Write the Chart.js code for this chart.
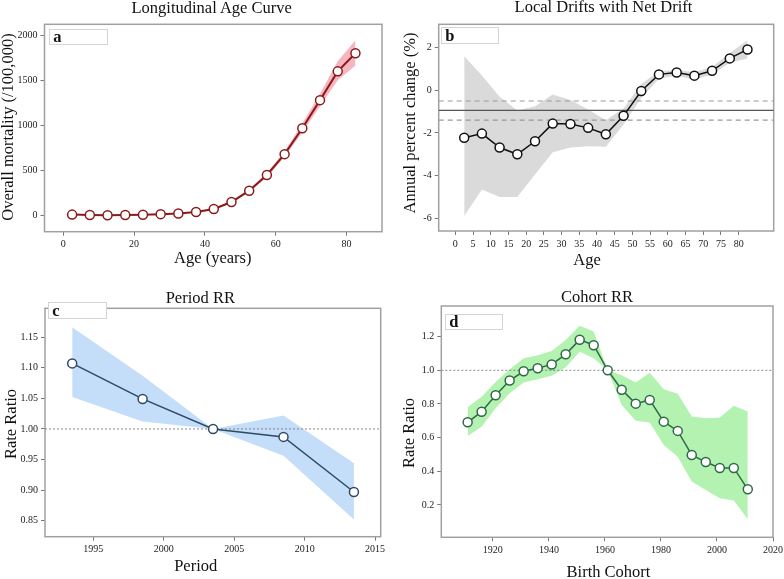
<!DOCTYPE html>
<html><head><meta charset="utf-8">
<script src="https://cdn.jsdelivr.net/npm/chart.js@4.4.1/dist/chart.umd.min.js"></script>
<style>
html,body{margin:0;padding:0;background:#fff;width:784px;height:579px;overflow:hidden;}
body{position:relative;font-family:'Liberation Serif','Times New Roman',serif;color:#111;}
canvas{position:absolute;}
.t{position:absolute;white-space:nowrap;font-size:16.5px;line-height:1;transform:translate(-50%,-50%);}
.r{transform:translate(-50%,-50%) rotate(-90deg);}
.tag{position:absolute;box-sizing:border-box;border:1.5px solid #d4d4d4;background:#fff;font-weight:bold;font-size:16.5px;padding-left:3px;}
</style></head><body>
<canvas id="ca" width="392" height="290" style="left:0;top:0"></canvas>
<canvas id="cb" width="392" height="290" style="left:392px;top:0"></canvas>
<canvas id="cc" width="392" height="289" style="left:0;top:290px"></canvas>
<canvas id="cd" width="392" height="289" style="left:392px;top:290px"></canvas>

<div class="t" style="left:211.7px;top:7.7px">Longitudinal Age Curve</div>
<div class="t" style="left:603.5px;top:7.3px">Local Drifts with Net Drift</div>
<div class="t" style="left:200.3px;top:297.7px">Period RR</div>
<div class="t" style="left:597px;top:297px">Cohort RR</div>

<div class="t" style="left:212.8px;top:257.5px">Age (years)</div>
<div class="t" style="left:587px;top:259.5px">Age</div>
<div class="t" style="left:195.7px;top:565.5px">Period</div>
<div class="t" style="left:608.5px;top:571.5px">Birth Cohort</div>

<div class="t r" style="left:7.5px;top:127.3px">Overall mortality (/100,000)</div>
<div class="t r" style="left:409.5px;top:123.3px">Annual percent change (%)</div>
<div class="t r" style="left:11.3px;top:424px">Rate Ratio</div>
<div class="t r" style="left:409px;top:433.3px">Rate Ratio</div>

<div class="tag" style="left:49.3px;top:29px;width:59px;height:15.5px;line-height:14px">a</div>
<div class="tag" style="left:441.3px;top:27.3px;width:58px;height:16.7px;line-height:15px">b</div>
<div class="tag" style="left:48.3px;top:301.7px;width:59px;height:17.6px;line-height:16px">c</div>
<div class="tag" style="left:445.3px;top:314.3px;width:57.7px;height:15.7px;line-height:14px">d</div>

<script>
// ---------- Data ----------
const ageGroups = [2.5, 7.5, 12.5, 17.5, 22.5, 27.5, 32.5, 37.5, 42.5, 47.5, 52.5, 57.5, 62.5, 67.5, 72.5, 77.5, 82.5];

const ageCurve      = [12, 8, 5, 7, 10, 17, 25, 40, 75, 152, 278, 452, 684, 972, 1284, 1604, 1806];
const ageCurveUpper = [14, 10, 7, 9, 12, 20, 28, 45, 82, 165, 295, 478, 715, 1025, 1355, 1715, 1950];
const ageCurveLower = [10, 6, 4, 5, 8, 14, 22, 36, 68, 140, 262, 428, 655, 925, 1215, 1505, 1670];

const localDrift      = [-2.22, -2.03, -2.68, -3.0, -2.39, -1.56, -1.58, -1.76, -2.06, -1.19, -0.03, 0.75, 0.84, 0.69, 0.92, 1.5, 1.92];
const localDriftUpper = [1.6, 0.7, -0.3, -0.95, -0.75, -0.2, -0.45, -0.9, -1.4, -0.85, 0.3, 0.9, 0.95, 0.85, 1.1, 1.75, 2.35];
const localDriftLower = [-5.9, -4.65, -5.0, -5.0, -3.95, -2.9, -2.68, -2.62, -2.65, -1.6, -0.35, 0.55, 0.7, 0.5, 0.75, 1.3, 1.5];
const netDrift = -0.94;
const netDriftCI = [-1.4, -0.5];

const periods     = [1993.5, 1998.5, 2003.5, 2008.5, 2013.5];
const periodRR    = [1.107, 1.049, 1.0, 0.987, 0.897];
const periodUpper = [1.166, 1.087, 1.0, 1.022, 0.944];
const periodLower = [1.052, 1.012, 1.0, 0.956, 0.852];

const cohorts     = [1911, 1916, 1921, 1926, 1931, 1936, 1941, 1946, 1951, 1956, 1961, 1966, 1971, 1976, 1981, 1986, 1991, 1996, 2001, 2006, 2011];
const cohortRR    = [0.691, 0.754, 0.852, 0.939, 0.994, 1.012, 1.035, 1.095, 1.182, 1.149, 1.0, 0.885, 0.802, 0.824, 0.695, 0.640, 0.497, 0.455, 0.42, 0.42, 0.293];
const cohortUpper = [0.78, 0.843, 0.93, 1.006, 1.072, 1.09, 1.115, 1.18, 1.264, 1.23, 1.0, 0.97, 0.927, 0.986, 0.888, 0.86, 0.725, 0.715, 0.72, 0.79, 0.755];
const cohortLower = [0.61, 0.665, 0.775, 0.864, 0.927, 0.947, 0.967, 1.018, 1.11, 1.072, 1.0, 0.794, 0.70, 0.69, 0.556, 0.487, 0.339, 0.289, 0.24, 0.226, 0.115];

const refRR = 1.0;

// ---------- Tick labels ----------
const ageTicksA    = [0, 20, 40, 60, 80];
const mortTicks    = [0, 500, 1000, 1500, 2000];
const ageTicksB    = [0, 5, 10, 15, 20, 25, 30, 35, 40, 45, 50, 55, 60, 65, 70, 75, 80];
const driftTicks   = [-6, -4, -2, 0, 2];
const periodTicks  = [1995, 2000, 2005, 2010, 2015];
const periodRRTicks = [0.85, 0.90, 0.95, 1.00, 1.05, 1.10, 1.15];
const cohortTicks  = [1920, 1940, 1960, 1980, 2000, 2020];
const cohortRRTicks = [0.2, 0.4, 0.6, 0.8, 1.0, 1.2];

// ---------- Helpers ----------
const pts = (xs, ys) => xs.map((x, i) => ({x: x, y: ys[i]}));
const hline = (xmin, xmax, v) => [{x: xmin, y: v}, {x: xmax, y: v}];

const framePlugin = {
  id: 'frame',
  beforeDatasetsDraw(chart) {
    const {ctx, chartArea: a} = chart;
    ctx.save();
    ctx.strokeStyle = '#a0a0a0';
    ctx.lineWidth = 1.5;
    ctx.strokeRect(a.left, a.top, a.right - a.left, a.bottom - a.top);
    ctx.restore();
  }
};

function mainSet(xs, ys, color, w) {
  return {data: pts(xs, ys), borderColor: color, borderWidth: w, backgroundColor: '#fff',
    pointRadius: 4.5, pointBorderWidth: 1.5, pointBorderColor: color, pointBackgroundColor: '#fff',
    tension: 0, fill: false, order: 0};
}
function bandSets(xs, up, lo, color) {
  return [
    {data: pts(xs, up), borderWidth: 0, pointRadius: 0, backgroundColor: color, fill: 2, tension: 0, order: 3},
    {data: pts(xs, lo), borderWidth: 0, pointRadius: 0, backgroundColor: color, fill: false, tension: 0, order: 4}
  ];
}
function refSet(xmin, xmax, v, color, dash, w) {
  return {data: hline(xmin, xmax, v), borderColor: color, borderDash: dash, borderWidth: w,
    pointRadius: 0, fill: false, tension: 0, order: 1};
}

function makeChart(id, W, H, area, xs, ys, datasets) {
  const tickFont = {family: "'Liberation Serif','Times New Roman',serif", size: 10};
  const common = {
    grid: {display: true, drawOnChartArea: false, drawTicks: true, tickLength: 4, color: '#777', lineWidth: 1},
    border: {display: false}
  };
  new Chart(document.getElementById(id), {
    type: 'line',
    data: {datasets: datasets},
    plugins: [framePlugin],
    options: {
      responsive: false, animation: false, events: [],
      layout: {padding: {top: area.t, right: W - area.r, left: 0, bottom: 0}},
      plugins: {legend: {display: false}, tooltip: {enabled: false}, title: {display: false},
        filler: {drawTime: 'beforeDatasetsDraw'}},
      scales: {
        x: Object.assign({}, common, {
          type: 'linear', position: 'bottom', min: xs.min, max: xs.max,
          ticks: {autoSkip: false, maxRotation: 0, font: tickFont, color: '#222', padding: 3, callback: xs.fmt},
          afterBuildTicks: s => { s.ticks = xs.ticks.map(v => ({value: v})); },
          afterFit: s => { s.height = H - area.b; s.paddingLeft = 0; s.paddingRight = 0; }
        }),
        y: Object.assign({}, common, {
          type: 'linear', position: 'left', min: ys.min, max: ys.max,
          ticks: {autoSkip: false, font: tickFont, color: '#222', padding: 3, callback: ys.fmt},
          afterBuildTicks: s => { s.ticks = ys.ticks.map(v => ({value: v})); },
          afterFit: s => { s.width = area.l; s.paddingTop = 0; s.paddingBottom = 0; }
        })
      }
    }
  });
}

const plain = v => String(Math.round(v));

// Panel a
const aX = {min: -5.3, max: 90, ticks: ageTicksA, fmt: plain};
makeChart('ca', 392, 290, {l: 44.5, t: 24.3, r: 382, b: 231.7}, aX,
  {min: -178, max: 2127, ticks: mortTicks, fmt: plain},
  [mainSet(ageGroups, ageCurve, '#8b1a1a', 2)].concat(bandSets(ageGroups, ageCurveUpper, ageCurveLower, '#f6b6c0')));

// Panel b
const bX = {min: -4.7, max: 89.9, ticks: ageTicksB, fmt: plain};
makeChart('cb', 392, 290, {l: 46.7, t: 24.3, r: 381.7, b: 231}, bX,
  {min: -6.6, max: 3.1, ticks: driftTicks, fmt: plain},
  [mainSet(ageGroups, localDrift, '#111111', 1.5)]
    .concat(bandSets(ageGroups, localDriftUpper, localDriftLower, '#dadada'))
    .concat([refSet(bX.min, bX.max, netDrift, '#555', [], 1.2),
             refSet(bX.min, bX.max, netDriftCI[0], '#999', [5, 4], 1.2),
             refSet(bX.min, bX.max, netDriftCI[1], '#999', [5, 4], 1.2)]));

// Panel c
const cX = {min: 1991.57, max: 2015.4, ticks: periodTicks, fmt: plain};
makeChart('cc', 392, 289, {l: 45, t: 18.3, r: 380.7, b: 246.7}, cX,
  {min: 0.824, max: 1.197, ticks: periodRRTicks, fmt: v => v.toFixed(2)},
  [mainSet(periods, periodRR, '#2e4a66', 1.5)]
    .concat(bandSets(periods, periodUpper, periodLower, '#c4ddf8'))
    .concat([refSet(cX.min, cX.max, refRR, '#888', [2, 2], 1)]));

// Panel d
const dX = {min: 1901.6, max: 2020, ticks: cohortTicks, fmt: plain};
makeChart('cd', 392, 289, {l: 49.3, t: 16, r: 381, b: 247.3}, dX,
  {min: 0.008, max: 1.382, ticks: cohortRRTicks, fmt: v => v.toFixed(1)},
  [mainSet(cohorts, cohortRR, '#2f6a48', 1.5)]
    .concat(bandSets(cohorts, cohortUpper, cohortLower, '#b3f2b0'))
    .concat([refSet(dX.min, dX.max, refRR, '#888', [2, 2], 1)]));
</script>
</body></html>
